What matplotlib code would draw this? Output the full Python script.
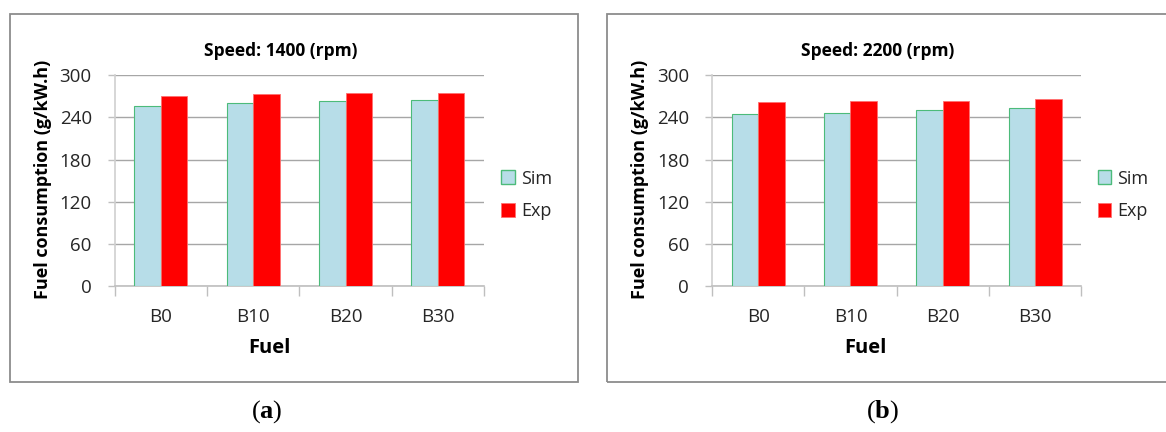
import matplotlib
matplotlib.use('Agg')
import matplotlib.pyplot as plt
import numpy as np
from matplotlib.patches import Rectangle, Patch

plt.rcParams['font.family'] = ['Open Sans', 'DejaVu Sans']
plt.rcParams['mathtext.fontset'] = 'custom'
plt.rcParams['mathtext.rm'] = 'Liberation Serif'
plt.rcParams['mathtext.bf'] = 'Liberation Serif:bold'

fuels = ['B0', 'B10', 'B20', 'B30']
sim_1400 = [256, 261, 263, 265]
exp_1400 = [271, 273, 275, 275]
sim_2200 = [245, 247, 251, 253]
exp_2200 = [262, 263, 264, 266]
panels = [
    ('Speed: 1400 (rpm)', sim_1400, exp_1400, 'a'),
    ('Speed: 2200 (rpm)', sim_2200, exp_2200, 'b'),
]
yticks = [0, 60, 120, 180, 240, 300]

W, H = 1166, 432
fig = plt.figure(figsize=(W / 100, H / 100), dpi=100)


def fx(px):
    return px / W


def fy(py):
    return 1 - py / H


sim_color = '#b7dde8'
sim_edge = '#4cbb7a'
exp_color = '#ff0000'
exp_edge = '#ff7070'
grid_color = '#a6a6a6'
text_color = '#262626'

# panel offsets in pixels (box left, axes left, caption centre)
layout = [(10, 114.7, 267), (606.7, 712, 883)]
bw = 0.288

for (title, sim, exp, tag), (box_x, ax_x, cap_x) in zip(panels, layout):
    fig.add_artist(Rectangle((fx(box_x), fy(381.7)), fx(568), 367.7 / H,
                             transform=fig.transFigure, fill=False,
                             edgecolor='#8c8c8c', linewidth=1.3))

    ax = fig.add_axes([fx(ax_x), fy(286), fx(369.3), (286 - 75.3) / H])
    x = np.arange(len(fuels))
    ax.bar(x - bw / 2, sim, bw, color=sim_color, edgecolor=sim_edge,
           linewidth=0.8, zorder=3)
    ax.bar(x + bw / 2, exp, bw, color=exp_color, edgecolor=exp_edge,
           linewidth=0.6, zorder=3)

    ax.set_xlim(-0.5, len(fuels) - 0.5)
    ax.set_ylim(0, 300)
    ax.set_yticks(yticks)
    ax.set_yticklabels([str(v) for v in yticks], fontsize=13.5, color=text_color)
    ax.yaxis.grid(True, color=grid_color, linewidth=1.0, zorder=0)
    ax.tick_params(axis='y', length=5, width=1, color='#bfbfbf', pad=11.5)

    ax.set_xticks(x)
    ax.set_xticklabels(fuels, fontsize=13.5, color=text_color)
    ax.tick_params(axis='x', which='major', length=0, pad=15.5)
    ax.set_xticks(np.arange(-0.5, len(fuels)), minor=True)
    ax.tick_params(axis='x', which='minor', length=7, width=1, color='#bfbfbf')

    for side in ['top', 'right']:
        ax.spines[side].set_visible(False)
    ax.spines['left'].set_color('#cfcfcf')
    ax.spines['bottom'].set_color('#bfbfbf')
    ax.spines['left'].set_linewidth(1.2)
    ax.spines['bottom'].set_linewidth(1.2)

    off = box_x - 10
    fig.text(fx(281 + off), fy(51), title, ha='center', va='center',
             fontsize=12.5, fontweight='bold', color='black')
    fig.text(fx(43 + off), fy(179), 'Fuel consumption (g/kW.h)', ha='center',
             va='center', rotation=90, fontsize=13, fontweight='bold',
             color='black')
    fig.text(fx(269 + off), fy(348), 'Fuel', ha='center', va='center',
             fontsize=14.5, fontweight='bold', color='black')
    fig.text(fx(cap_x), fy(412), r'$(\mathbf{' + tag + '})$', ha='center',
             va='center', fontsize=19, color='black')

    handles = [Patch(facecolor=sim_color, edgecolor=sim_edge, linewidth=1),
               Patch(facecolor=exp_color, edgecolor=exp_edge, linewidth=0.6)]
    fig.legend(handles, ['Sim', 'Exp'], loc='upper left',
               bbox_to_anchor=(fx(501 + off), fy(169.5)),
               bbox_transform=fig.transFigure, frameon=False,
               fontsize=13, handlelength=0.75, handleheight=0.8,
               handletextpad=0.35, labelspacing=0.8, borderpad=0,
               borderaxespad=0, labelcolor=text_color)

fig.savefig('out.png', dpi=100)
